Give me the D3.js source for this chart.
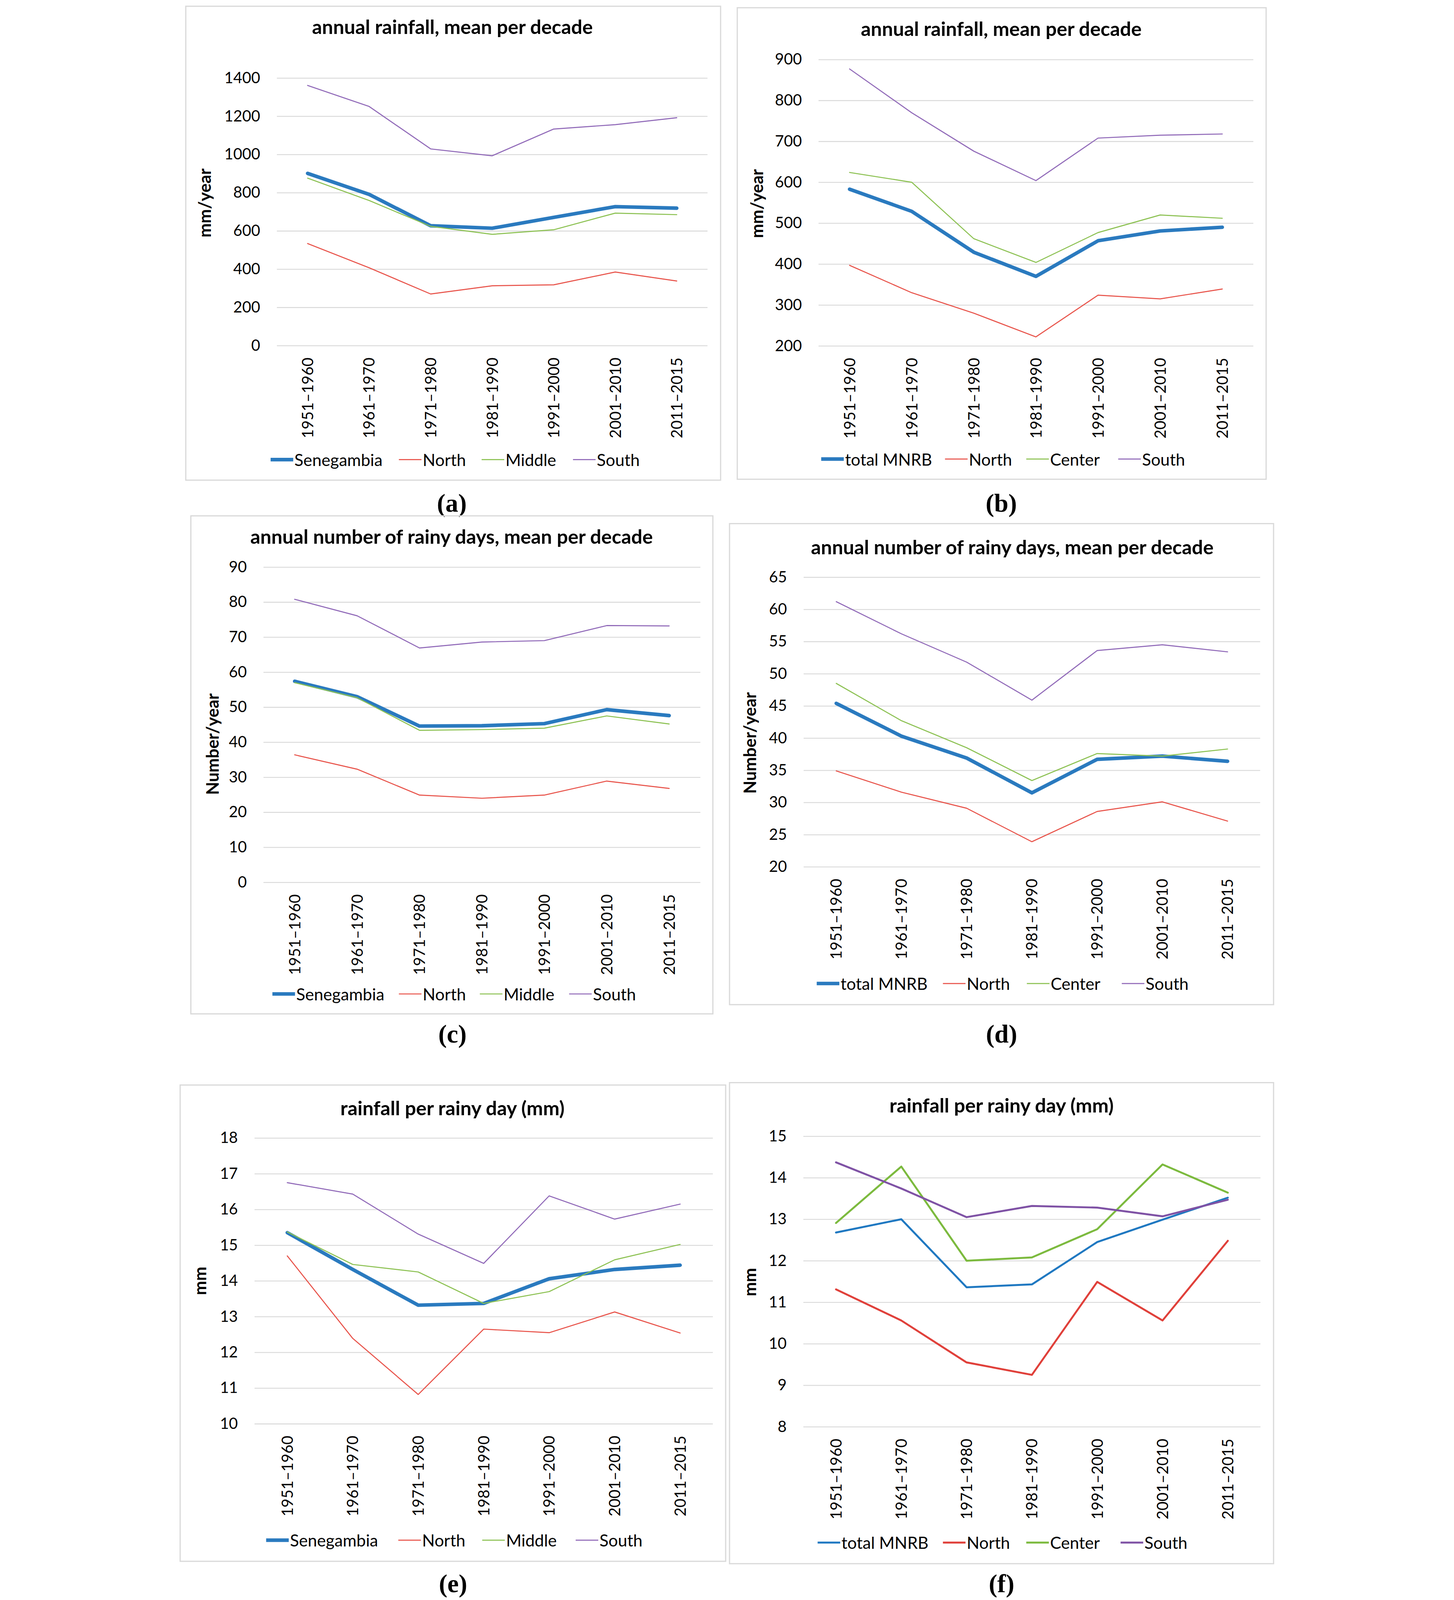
<!DOCTYPE html>
<html>
<head>
<meta charset="utf-8">
<script src="https://cdn.jsdelivr.net/npm/d3@7"></script>
<style>
  html, body { margin: 0; padding: 0; background: #fff; overflow: hidden; }
  svg { display: block; width: 100vw; height: 100vh; }
  text { font-family: Lato, "Open Sans", sans-serif; fill: #000; }
</style>
</head>
<body>
<svg id="fig"></svg>
<script>
// decades on the x axis, same for all six panels
const decades = ["1951–1960", "1961–1970", "1971–1980", "1981–1990", "1991–2000", "2001–2010", "2011–2015"];

// (a) annual rainfall, Senegambia (mm/year)
const rainSenegambia = [901, 791, 627, 614, 671, 727, 719];
const rainSenNorth   = [534, 407, 270, 313, 318, 385, 338];
const rainSenMiddle  = [876, 759, 624, 582, 606, 693, 685];
const rainSenSouth   = [1361, 1251, 1029, 993, 1133, 1156, 1192];

// (b) annual rainfall, MNRB (mm/year)
const rainMNRB       = [583, 529, 429, 370, 457, 481, 490];
const rainMNRBNorth  = [397, 330, 280, 222, 324, 315, 339];
const rainMNRBCenter = [624, 600, 462, 404, 477, 520, 512];
const rainMNRBSouth  = [877, 770, 676, 604, 708, 715, 718];

// (c) rainy days, Senegambia (number/year)
const daysSenegambia = [57.4, 53.0, 44.6, 44.7, 45.3, 49.3, 47.6];
const daysSenNorth   = [36.4, 32.3, 24.9, 24.0, 24.9, 28.9, 26.8];
const daysSenMiddle  = [57.0, 52.7, 43.4, 43.6, 44.0, 47.5, 45.2];
const daysSenSouth   = [80.8, 76.1, 66.9, 68.6, 69.0, 73.3, 73.2];

// (d) rainy days, MNRB (number/year)
const daysMNRB       = [45.4, 40.3, 36.9, 31.5, 36.7, 37.2, 36.4];
const daysMNRBNorth  = [34.9, 31.6, 29.1, 23.9, 28.6, 30.1, 27.1];
const daysMNRBCenter = [48.5, 42.7, 38.5, 33.4, 37.6, 37.2, 38.3];
const daysMNRBSouth  = [61.2, 56.2, 51.8, 45.9, 53.6, 54.5, 53.4];

// (e) rainfall per rainy day, Senegambia (mm)
const perDaySenegambia = [15.35, 14.32, 13.32, 13.37, 14.06, 14.32, 14.44];
const perDaySenNorth   = [14.70, 12.39, 10.82, 12.65, 12.55, 13.13, 12.54];
const perDaySenMiddle  = [15.37, 14.46, 14.25, 13.37, 13.70, 14.59, 15.02];
const perDaySenSouth   = [16.75, 16.43, 15.31, 14.49, 16.38, 15.73, 16.15];

// (f) rainfall per rainy day, MNRB (mm)
const perDayMNRB       = [12.68, 13.00, 11.36, 11.43, 12.45, 12.99, 13.52];
const perDayMNRBNorth  = [11.31, 10.56, 9.55, 9.25, 11.49, 10.56, 12.48];
const perDayMNRBCenter = [12.91, 14.27, 12.00, 12.08, 12.76, 14.32, 13.64];
const perDayMNRBSouth  = [14.37, 13.74, 13.05, 13.32, 13.28, 13.07, 13.47];

const seriesSen  = ["Senegambia", "North", "Middle", "South"];
const seriesMNRB = ["total MNRB", "North", "Center", "South"];

const colors = { total: "#2a7abf", north: "#e8534a", mid: "#8cc152", south: "#9069b8" };
const colorsF = { total: "#1f78c1", north: "#e0403a", mid: "#7cba3e", south: "#7f52a5" };

// whole figure in a 3723 x 5375 coordinate box, scaled to whatever the window is
const W = 3723, H = 5375;
const svg = d3.select("#fig")
  .attr("viewBox", [0, 0, W, H])
  .attr("preserveAspectRatio", "xMidYMid meet");
svg.append("rect").attr("width", W).attr("height", H).attr("fill", "#fff");

function panel(cfg) {
  const g = svg.append("g");

  // outer frame
  g.append("rect")
    .attr("x", cfg.box[0]).attr("y", cfg.box[1])
    .attr("width", cfg.box[2] - cfg.box[0]).attr("height", cfg.box[3] - cfg.box[1])
    .attr("fill", "none").attr("stroke", "#d9d9d9").attr("stroke-width", 4);

  const x = d3.scalePoint().domain(decades).range([cfg.plot.l, cfg.plot.r]).padding(0.5);
  const y = d3.scaleLinear().domain(cfg.domain).range([cfg.plot.b, cfg.plot.t]);
  const ticks = d3.range(cfg.domain[0], cfg.domain[1] + cfg.step / 2, cfg.step);

  // y axis + gridlines
  g.append("g")
    .attr("transform", `translate(${cfg.plot.l},0)`)
    .call(d3.axisLeft(y).tickValues(ticks).tickFormat(d => String(d))
      .tickSize(-(cfg.plot.r - cfg.plot.l)).tickPadding(56))
    .call(a => a.select(".domain").remove())
    .call(a => a.selectAll("line").attr("stroke", "#d9d9d9").attr("stroke-width", 3))
    .call(a => a.selectAll("text").attr("font-size", 52));

  // x axis labels, rotated
  g.append("g")
    .attr("transform", `translate(0,${cfg.plot.b})`)
    .call(d3.axisBottom(x).tickSize(0))
    .call(a => a.select(".domain").remove())
    .call(a => a.selectAll("text")
      .attr("font-size", 52)
      .attr("transform", "rotate(-90)")
      .attr("x", -40).attr("y", 0).attr("dy", "0.35em")
      .attr("text-anchor", "end"));

  // lines
  const line = d3.line().x((d, i) => x(decades[i])).y(d => y(d));
  cfg.series.forEach(s => {
    g.append("path")
      .datum(s.values)
      .attr("d", line)
      .attr("fill", "none")
      .attr("stroke", s.color)
      .attr("stroke-width", s.width)
      .attr("stroke-linejoin", "round")
      .attr("stroke-linecap", "round");
  });

  // titles
  g.append("text")
    .attr("x", cfg.title[0]).attr("y", cfg.title[1])
    .attr("text-anchor", "middle")
    .attr("font-weight", "bold").attr("font-size", 66)
    .text(cfg.titleText);

  g.append("text")
    .attr("transform", `translate(${cfg.ylab[0]},${cfg.ylab[1]}) rotate(-90)`)
    .attr("text-anchor", "middle").attr("dominant-baseline", "central")
    .attr("font-weight", "bold").attr("font-size", 57)
    .text(cfg.ylabText);

  // legend
  cfg.series.forEach((s, i) => {
    const lx = cfg.legendX[i];
    g.append("line")
      .attr("x1", lx).attr("x2", lx + 76)
      .attr("y1", cfg.legendY).attr("y2", cfg.legendY)
      .attr("stroke", s.color).attr("stroke-width", s.width);
    g.append("text")
      .attr("x", lx + 80).attr("y", cfg.legendY)
      .attr("dominant-baseline", "central")
      .attr("font-size", 56)
      .text(s.name);
  });

  // panel tag, bold serif under the frame
  g.append("text")
    .attr("x", cfg.tag[0]).attr("y", cfg.tag[1])
    .attr("text-anchor", "middle").attr("dominant-baseline", "central")
    .style("font-family", "'Liberation Serif', 'DejaVu Serif', serif")
    .attr("font-weight", "bold")
    .attr("font-size", 86)
    .text(cfg.tagText);
}

function mk(names, vals, cols, thick, thin) {
  const keys = ["total", "north", "mid", "south"];
  return names.map((n, i) => ({ name: n, values: vals[i], color: cols[keys[i]], width: i === 0 ? thick : thin }));
}

panel({
  box: [43, 21, 1840, 1613], plot: { l: 349, r: 1796, t: 262, b: 1161 },
  domain: [0, 1400], step: 200,
  title: [939, 114], titleText: "annual rainfall, mean per decade",
  ylab: [105, 682], ylabText: "mm/year",
  legendY: 1544, legendX: [328, 759, 1037, 1344],
  tag: [937, 1690], tagText: "(a)",
  series: mk(seriesSen, [rainSenegambia, rainSenNorth, rainSenMiddle, rainSenSouth], colors, 12, 3.5)
});

panel({
  box: [1896, 26, 3673, 1610], plot: { l: 2169, r: 3630, t: 200, b: 1162 },
  domain: [200, 900], step: 100,
  title: [2783, 121], titleText: "annual rainfall, mean per decade",
  ylab: [1961, 684], ylabText: "mm/year",
  legendY: 1542, legendX: [2178, 2594, 2867, 3176],
  tag: [2783, 1690], tagText: "(b)",
  series: mk(seriesMNRB, [rainMNRB, rainMNRBNorth, rainMNRBCenter, rainMNRBSouth], colors, 12, 3.5)
});

panel({
  box: [60, 1733, 1814, 3406], plot: { l: 304, r: 1772, t: 1905, b: 2964 },
  domain: [0, 90], step: 10,
  title: [936, 1827], titleText: "annual number of rainy days, mean per decade",
  ylab: [131, 2500], ylabText: "Number/year",
  legendY: 3339, legendX: [334, 759, 1031, 1331],
  tag: [939, 3473], tagText: "(c)",
  series: mk(seriesSen, [daysSenegambia, daysSenNorth, daysSenMiddle, daysSenSouth], colors, 12, 3.5)
});

panel({
  box: [1870, 1759, 3698, 3375], plot: { l: 2119, r: 3653, t: 1939, b: 2912 },
  domain: [20, 65], step: 5,
  title: [2820, 1862], titleText: "annual number of rainy days, mean per decade",
  ylab: [1937, 2496], ylabText: "Number/year",
  legendY: 3304, legendX: [2163, 2587, 2869, 3188],
  tag: [2784, 3473], tagText: "(d)",
  series: mk(seriesMNRB, [daysMNRB, daysMNRBNorth, daysMNRBCenter, daysMNRBSouth], colors, 12, 3.5)
});

panel({
  box: [24, 3645, 1857, 5245], plot: { l: 274, r: 1814, t: 3823, b: 4783 },
  domain: [10, 18], step: 1,
  title: [939, 3746], titleText: "rainfall per rainy day (mm)",
  ylab: [89, 4303], ylabText: "mm",
  legendY: 5174, legendX: [313, 757, 1039, 1353],
  tag: [941, 5320], tagText: "(e)",
  series: mk(seriesSen, [perDaySenegambia, perDaySenNorth, perDaySenMiddle, perDaySenSouth], colors, 12, 3.5)
});

panel({
  box: [1870, 3637, 3698, 5253], plot: { l: 2118, r: 3654, t: 3817, b: 4793 },
  domain: [8, 15], step: 1,
  title: [2784, 3737], titleText: "rainfall per rainy day (mm)",
  ylab: [1937, 4307], ylabText: "mm",
  legendY: 5182, legendX: [2166, 2587, 2867, 3184],
  tag: [2784, 5320], tagText: "(f)",
  series: mk(seriesMNRB, [perDayMNRB, perDayMNRBNorth, perDayMNRBCenter, perDayMNRBSouth], colorsF, 6.5, 6.5)
});
</script>
</body>
</html>
